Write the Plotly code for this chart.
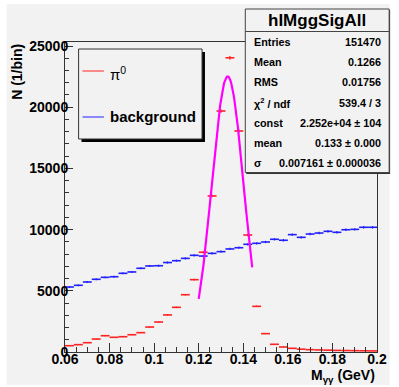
import plotly.graph_objects as go
import math

# ---------------- data ----------------
mass_gev = [0.062, 0.066, 0.070, 0.074, 0.078, 0.082, 0.086, 0.090, 0.094, 0.098,
            0.102, 0.106, 0.110, 0.114, 0.118, 0.122, 0.126, 0.130, 0.134, 0.138,
            0.142, 0.146, 0.150, 0.154, 0.158, 0.162, 0.166, 0.170, 0.174, 0.178,
            0.182, 0.186, 0.190, 0.194, 0.198]
half_bin = 0.002

pi0_counts = [515, 600, 760, 1060, 1330, 1200, 1250, 1410, 1580, 2040,
              2450, 3030, 3650, 4680, 5910, 8150, 12750, 19690, 24040, 18060,
              9560, 3730, 1500, 630, 410, 300, 230, 190, 170, 150,
              130, 120, 110, 100, 90]

background_counts = [5310, 5450, 5720, 5940, 6100, 6150, 6430, 6540, 6840, 7030,
                     7050, 7310, 7460, 7650, 7900, 7840, 8060, 8200, 8420, 8520,
                     8800, 8880, 8990, 9210, 9130, 9590, 9370, 9640, 9720, 9860,
                     9780, 9990, 10020, 10190, 10190]

# Gaussian fit parameters (from stats box)
fit_const = 22520.0
fit_mean = 0.133
fit_sigma = 0.007161
fit_range = [0.120, 0.144]

stats_title = "hIMggSigAll"
stats_labels = ["Entries", "Mean", "RMS", "χ<sup>2</sup> / ndf", "const", "mean", "σ"]
stats_values = ["151470", "0.1266", "0.01756", "539.4 / 3",
                "2.252e+04 ± 104", "0.133 ± 0.000", "0.007161 ± 0.000036"]

# ---------------- layout geometry ----------------
W, H = 399, 387
L, R, T, B = 65, 13, 42, 35
PW, PH = W - L - R, H - T - B


def px(x):
    return (x - L) / PW


def py(y):
    return (T + PH - y) / PH


FONT = "Liberation Sans, Arial, Helvetica, sans-serif"
BG = "#f2f2f2"

fig = go.Figure()


def hist_trace(vals, color):
    return go.Scatter(
        x=mass_gev, y=vals, mode="markers",
        marker=dict(size=0.1, color=color),
        error_x=dict(type="constant", value=half_bin, width=0, thickness=1.6, color=color),
        error_y=dict(type="data", array=[math.sqrt(v) for v in vals], width=0,
                     thickness=1.2, color=color),
        showlegend=False, hoverinfo="skip")


fig.add_trace(hist_trace(background_counts, "#2020ff"))
fig.add_trace(hist_trace(pi0_counts, "#ff2020"))

# gaussian fit curve
n = 120
fx = [fit_range[0] + (fit_range[1] - fit_range[0]) * i / (n - 1) for i in range(n)]
fy = [fit_const * math.exp(-0.5 * ((v - fit_mean) / fit_sigma) ** 2) for v in fx]
fig.add_trace(go.Scatter(x=fx, y=fy, mode="lines",
                         line=dict(color="#ff00ff", width=2.2),
                         showlegend=False, hoverinfo="skip"))

shapes = []
annotations = []

# canvas gray background
shapes.append(dict(type="rect", xref="paper", yref="paper", layer="below",
                   x0=px(5), x1=px(399), y0=py(385), y1=py(4),
                   fillcolor=BG, line=dict(width=0)))

# legend box with shadow
shapes.append(dict(type="rect", xref="paper", yref="paper",
                   x0=px(82), x1=px(209), y0=py(142), y1=py(52),
                   fillcolor="#000000", line=dict(width=0)))
shapes.append(dict(type="rect", xref="paper", yref="paper",
                   x0=px(79), x1=px(206), y0=py(139), y1=py(49),
                   fillcolor=BG, line=dict(color="#333333", width=1)))
shapes.append(dict(type="line", xref="paper", yref="paper",
                   x0=px(83), x1=px(105), y0=py(71), y1=py(71),
                   line=dict(color="#ff5050", width=1.3)))
shapes.append(dict(type="line", xref="paper", yref="paper",
                   x0=px(83), x1=px(105), y0=py(117), y1=py(117),
                   line=dict(color="#5050ff", width=1.3)))
annotations.append(dict(text="π<sup>0</sup>", xref="paper", yref="paper",
                        x=px(109), y=py(73), xanchor="left", yanchor="middle",
                        showarrow=False, font=dict(family=FONT, size=15, color="#000")))
annotations.append(dict(text="<b>background</b>", xref="paper", yref="paper",
                        x=px(109), y=py(116), xanchor="left", yanchor="middle",
                        showarrow=False, font=dict(family=FONT, size=15, color="#000")))

# stats box with shadow
shapes.append(dict(type="rect", xref="paper", yref="paper",
                   x0=px(251.5), x1=px(399.5), y0=py(174), y1=py(10),
                   fillcolor="#333333", line=dict(width=0)))
shapes.append(dict(type="rect", xref="paper", yref="paper",
                   x0=px(250.5), x1=px(398.5), y0=py(172.5), y1=py(9),
                   fillcolor=BG, line=dict(color="#444444", width=1)))
shapes.append(dict(type="line", xref="paper", yref="paper",
                   x0=px(250.5), x1=px(398.5), y0=py(31.5), y1=py(31.5),
                   line=dict(color="#444444", width=1)))
annotations.append(dict(text="<b>" + stats_title + "</b>", xref="paper", yref="paper",
                        x=px(324.5), y=py(20.5), xanchor="center", yanchor="middle",
                        showarrow=False, font=dict(family=FONT, size=17, color="#000")))
row_y0, row_dy = 41.7, 20.27
for i, (lab, val) in enumerate(zip(stats_labels, stats_values)):
    yy = row_y0 + i * row_dy
    annotations.append(dict(text="<b>" + lab + "</b>", xref="paper", yref="paper",
                            x=px(257.5), y=py(yy), xanchor="left", yanchor="middle",
                            showarrow=False, font=dict(family=FONT, size=10.8, color="#000")))
    annotations.append(dict(text="<b>" + val + "</b>", xref="paper", yref="paper",
                            x=px(392.5), y=py(yy), xanchor="right", yanchor="middle",
                            showarrow=False, font=dict(family=FONT, size=10.8, color="#000")))

# axis titles
annotations.append(dict(text="<b>M<sub>γγ</sub> (GeV)</b>", xref="paper", yref="paper",
                        x=px(386), y=py(376), xanchor="right", yanchor="middle",
                        showarrow=False, font=dict(family=FONT, size=14, color="#000")))
annotations.append(dict(text="<b>N (1/bin)</b>", xref="paper", yref="paper",
                        x=px(16), y=py(41.5), xanchor="center", yanchor="top",
                        textangle=-90,
                        showarrow=False, font=dict(family=FONT, size=14, color="#000")))

fig.update_layout(
    width=W, height=H,
    margin=dict(l=L, r=R, t=T, b=B, pad=0),
    paper_bgcolor="#ffffff", plot_bgcolor=BG,
    shapes=shapes, annotations=annotations,
    showlegend=False,
)
fig.update_xaxes(range=[0.06, 0.2], dtick=0.02, tick0=0.06,
                 ticks="inside", ticklen=9, tickwidth=1, tickcolor="#333333",
                 ticklabelstandoff=-6,
                 minor=dict(dtick=0.005, tick0=0.06, ticks="inside", ticklen=5,
                            tickcolor="#333333", tickwidth=1),
                 showline=True, mirror=True, linecolor="#333333", linewidth=1,
                 showgrid=False, zeroline=False,
                 tickfont=dict(family=FONT, size=14, color="#000", weight="bold"))
fig.update_yaxes(range=[0, 25330], dtick=5000, tickformat="d",
                 ticks="inside", ticklen=8, tickwidth=1, tickcolor="#333333",
                 ticklabelstandoff=-7,
                 minor=dict(dtick=1000, ticks="inside", ticklen=4,
                            tickcolor="#333333", tickwidth=1),
                 showline=True, mirror=True, linecolor="#333333", linewidth=1,
                 showgrid=False, zeroline=False,
                 tickfont=dict(family=FONT, size=14, color="#000", weight="bold"))

fig.write_html("out.html", config={"displayModeBar": False},
               post_script="document.body.style.margin='0';")
